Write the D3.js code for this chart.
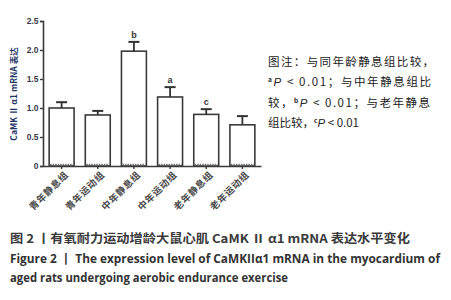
<!DOCTYPE html>
<html><head><meta charset="utf-8">
<script src="https://cdn.jsdelivr.net/npm/d3@7"></script>
<style>body{margin:0;background:#fff}svg{display:block}</style>
</head><body><svg id="c" width="451" height="300"></svg>
<script>
const categories = ["青年静息组","青年运动组","中年静息组","中年运动组","老年静息组","老年运动组"];
const means = [1.00, 0.88, 1.98, 1.19, 0.89, 0.71];
const errors = [0.10, 0.07, 0.16, 0.17, 0.09, 0.15];
const marks = ["", "", "b", "a", "c", ""];
const yTicks = [0, 0.5, 1.0, 1.5, 2.0, 2.5];
const yTickLabels = ["0", "0.5", "1.0", "1.5", "2.0", "2.5"];
const noteLines = [
  [["图注：与同年龄静息组比较，", ""]],
  [["a", "sup"], ["P", "it"], [" < 0.01；与中年静息组比", ""]],
  [["较，", ""], ["b", "sup"], ["P", "it"], [" < 0.01；与老年静息", ""]],
  [["组比较，", ""], ["c", "sup"], ["P", "it"], [" < 0.01", ""]]
];
const captionLines = ["图 2 丨有氧耐力运动增龄大鼠心肌 CaMK Ⅱ α1 mRNA 表达水平变化",
  "Figure 2  丨  The expression level of CaMKIIα1 mRNA in the myocardium of",
  "aged rats undergoing aerobic endurance exercise"];

const svg = d3.select("#c");
const x = d3.scaleBand().domain(categories).range([43, 261]).paddingInner(0.31).paddingOuter(0.17);
const y = d3.scaleLinear().domain([0, 2.5]).range([166, 21]);
const dark = "#333";

const g = svg.append("g");
// bars
g.selectAll("rect.bar").data(means).join("rect")
  .attr("x", (d,i)=>x(categories[i])).attr("y", d=>y(d))
  .attr("width", x.bandwidth()).attr("height", d=>y(0)-y(d))
  .attr("fill","#fff").attr("stroke", "#3a3a3a").attr("stroke-width", 1.6);
// dotted baseline strip
g.selectAll("line.dots").data(means).join("line")
  .attr("x1",(d,i)=>x(categories[i])+1).attr("x2",(d,i)=>x(categories[i])+x.bandwidth()-1)
  .attr("y1", y(0)-1.5).attr("y2", y(0)-1.5)
  .attr("stroke","#777").attr("stroke-width",1.5).attr("stroke-dasharray","1.5,1");
// error bars
const cx = i => x(categories[i]) + x.bandwidth()/2;
g.selectAll("line.err").data(means).join("line")
  .attr("x1",(d,i)=>cx(i)).attr("x2",(d,i)=>cx(i))
  .attr("y1", d=>y(d)).attr("y2",(d,i)=>y(d+errors[i]))
  .attr("stroke", dark).attr("stroke-width",1.8);
g.selectAll("line.cap").data(means).join("line")
  .attr("x1",(d,i)=>cx(i)-5.5).attr("x2",(d,i)=>cx(i)+5.5)
  .attr("y1",(d,i)=>y(d+errors[i])).attr("y2",(d,i)=>y(d+errors[i]))
  .attr("stroke", dark).attr("stroke-width",2);
// significance letters
g.selectAll("text.mk").data(means).join("text")
  .attr("x",(d,i)=>cx(i)).attr("y",(d,i)=>y(d+errors[i])-4)
  .attr("text-anchor","middle").attr("font-family","Liberation Sans, Arial").attr("font-weight","bold")
  .attr("font-size",9).attr("fill", dark).text((d,i)=>marks[i]);

// axes
const yAxis = d3.axisLeft(y).tickValues(yTicks).tickFormat((d,i)=>yTickLabels[i]).tickSize(3).tickPadding(1.5);
const ya = svg.append("g").attr("transform","translate(43,0)").call(yAxis);
ya.select(".domain").attr("stroke", "#3a3a3a").attr("stroke-width",1.6);
ya.selectAll(".tick line").attr("stroke","#3a3a3a").attr("stroke-width",1.4);
ya.selectAll(".tick text").attr("font-family","Liberation Sans, Arial").attr("font-weight","bold")
  .attr("font-size",8.5).attr("fill","#3a3a4a");

const xAxis = d3.axisBottom(x).tickSize(3).tickSizeOuter(0).tickFormat("");
const xa = svg.append("g").attr("transform","translate(0,166)").call(xAxis);
xa.select(".domain").attr("stroke","#3a3a3a").attr("stroke-width",1.6);
xa.selectAll(".tick line").attr("stroke","#3a3a3a").attr("stroke-width",1.4);
// rotated x labels
svg.append("g").selectAll("text").data(categories).join("text")
  .attr("transform",(d,i)=>`translate(${cx(i)+5},${173}) rotate(-45)`)
  .attr("text-anchor","end").attr("dy","0.35em")
  .attr("font-family","Noto Sans CJK SC").attr("font-weight","bold").attr("font-size",9.5)
  .attr("fill","#4a4a4a").attr("letter-spacing",0.6).text(d=>d);

// y axis title
svg.append("text").attr("transform","translate(14,94) rotate(-90)")
  .attr("text-anchor","middle").attr("dy","0.35em")
  .attr("font-family","Noto Sans CJK SC").attr("font-weight","bold").attr("font-size",8.5)
  .attr("fill","#1f3566").text("CaMK Ⅱ α1 mRNA 表达");

// note
const note = svg.append("g");
noteLines.forEach((line, li) => {
  const t = note.append("text").attr("x", 268).attr("y", 66 + li*20.3)
    .attr("font-family","Noto Sans CJK SC").attr("font-size",11.5).attr("fill","#222");
  line.forEach(([s, k]) => {
    const ts = t.append("tspan").text(s);
    if (k === "sup") ts.attr("font-size",6.5).attr("dy",-4).attr("font-weight","bold");
    if (k === "it") ts.attr("font-style","italic").attr("dy",4).attr("font-family","Liberation Sans, Arial");
  });
});
note.selectAll("text").each(function(d,i){ if(i===0) d3.select(this).attr("textLength",166).attr("lengthAdjust","spacing"); if(i===1) d3.select(this).attr("textLength",163); if(i===2) d3.select(this).attr("textLength",162); });

// caption
const cap = svg.append("g");
cap.append("text").attr("x",10).attr("y",243).attr("font-family","Noto Sans CJK SC").attr("font-weight","bold")
  .attr("font-size",12).attr("fill","#3a3a3a").attr("textLength",400).attr("lengthAdjust","spacingAndGlyphs").text(captionLines[0]);
cap.append("text").attr("x",10).attr("y",263).attr("font-family","Open Sans").attr("font-weight","bold")
  .attr("font-size",11.5).attr("fill","#333").attr("textLength",430).attr("lengthAdjust","spacingAndGlyphs").text(captionLines[1]);
cap.append("text").attr("x",10).attr("y",282).attr("font-family","Open Sans").attr("font-weight","bold")
  .attr("font-size",11.5).attr("fill","#333").attr("textLength",278).attr("lengthAdjust","spacingAndGlyphs").text(captionLines[2]);
</script></body></html>
